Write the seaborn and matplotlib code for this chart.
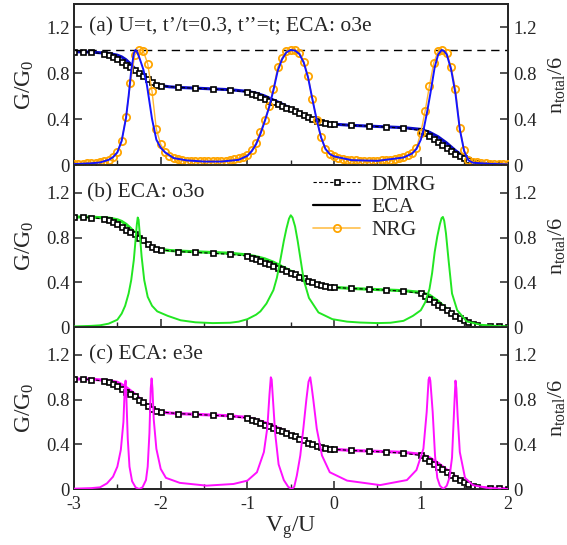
import matplotlib
matplotlib.use("Agg")
import matplotlib.pyplot as plt
import seaborn as sns
import pandas as pd
from matplotlib.ticker import MultipleLocator
from matplotlib.lines import Line2D

# ---------------- data ----------------
dmrg_v = [-3.0, -2.9, -2.8, -2.65, -2.6, -2.55, -2.5, -2.45, -2.4, -2.35, -2.3, -2.25, -2.2, -2.15,
          -2.1, -2.05, -2.0, -1.8, -1.6, -1.4, -1.2, -1.0, -0.95, -0.9, -0.85, -0.8, -0.75, -0.7,
          -0.65, -0.6, -0.55, -0.5, -0.45, -0.4, -0.35, -0.3, -0.25, -0.2, -0.15, -0.1, -0.05, 0.0,
          0.2, 0.4, 0.6, 0.8, 1.0, 1.05, 1.1, 1.15, 1.2, 1.25, 1.3, 1.35, 1.4, 1.45, 1.5, 1.55, 1.6,
          1.65, 1.8, 1.9, 2.0]
dmrg_n = [0.985, 0.985, 0.98, 0.965, 0.955, 0.94, 0.92, 0.895, 0.87, 0.85, 0.83, 0.80, 0.775, 0.745,
          0.72, 0.70, 0.69, 0.675, 0.667, 0.66, 0.65, 0.635, 0.62, 0.605, 0.59, 0.575, 0.56, 0.545,
          0.53, 0.515, 0.50, 0.485, 0.47, 0.45, 0.435, 0.415, 0.40, 0.385, 0.375, 0.365, 0.36, 0.355,
          0.345, 0.338, 0.33, 0.32, 0.30, 0.275, 0.25, 0.225, 0.20, 0.175, 0.15, 0.125, 0.10, 0.08,
          0.06, 0.045, 0.03, 0.02, 0.008, 0.005, 0.004]

nrg_v = [-3.0, -2.95, -2.9, -2.85, -2.8, -2.75, -2.7, -2.65, -2.6, -2.55, -2.5, -2.45, -2.4, -2.35,
         -2.3, -2.25, -2.2, -2.15, -2.1, -2.05, -2.0, -1.95, -1.9, -1.85, -1.8, -1.75, -1.7, -1.65,
         -1.6, -1.55, -1.5, -1.45, -1.4, -1.35, -1.3, -1.25, -1.2, -1.15, -1.1, -1.05, -1.0, -0.95,
         -0.9, -0.85, -0.8, -0.75, -0.7, -0.65, -0.6, -0.55, -0.5, -0.45, -0.4, -0.35, -0.3, -0.25,
         -0.2, -0.15, -0.1, -0.05, 0.0, 0.05, 0.1, 0.15, 0.2, 0.25, 0.3, 0.35, 0.4, 0.45, 0.5, 0.55,
         0.6, 0.65, 0.7, 0.75, 0.8, 0.85, 0.9, 0.95, 1.0, 1.05, 1.1, 1.15, 1.2, 1.25, 1.3, 1.35, 1.4,
         1.45, 1.5, 1.55, 1.6, 1.65, 1.7, 1.75, 1.8, 1.85, 1.9, 1.95, 2.0]
nrg_g = [0.010, 0.011, 0.012, 0.014, 0.017, 0.021, 0.026, 0.034, 0.046, 0.068, 0.110, 0.210, 0.420,
         0.710, 0.955, 1.000, 0.990, 0.880, 0.640, 0.310, 0.180, 0.110, 0.075, 0.058, 0.048, 0.042,
         0.038, 0.035, 0.033, 0.032, 0.031, 0.031, 0.032, 0.033, 0.035, 0.038, 0.042, 0.048, 0.057,
         0.068, 0.085, 0.130, 0.190, 0.290, 0.390, 0.510, 0.660, 0.850, 0.930, 0.990, 1.000, 1.000,
         0.975, 0.900, 0.770, 0.570, 0.390, 0.240, 0.140, 0.095, 0.075, 0.062, 0.053, 0.047, 0.043,
         0.040, 0.038, 0.037, 0.037, 0.037, 0.038, 0.040, 0.043, 0.047, 0.052, 0.060, 0.070, 0.085,
         0.105, 0.150, 0.280, 0.470, 0.690, 0.890, 0.990, 1.000, 0.975, 0.850, 0.660, 0.320, 0.130,
         0.045, 0.030, 0.022, 0.017, 0.014, 0.012, 0.010, 0.009, 0.008, 0.008]

eca_n_v = [-3.0, -2.8, -2.6, -2.5, -2.45, -2.4, -2.35, -2.3, -2.25, -2.2, -2.15, -2.1, -2.05, -2.0,
           -1.9, -1.8, -1.5, -1.2, -1.0, -0.9, -0.8, -0.7, -0.6, -0.5, -0.4, -0.3, -0.2, -0.1, 0.0,
           0.2, 0.5, 0.8, 1.0, 1.1, 1.2, 1.3, 1.4, 1.5, 1.6, 1.7, 1.8, 2.0]
eca_n_a = [0.985, 0.982, 0.97, 0.955, 0.94, 0.915, 0.88, 0.84, 0.80, 0.77, 0.745, 0.72, 0.70, 0.69,
           0.68, 0.675, 0.665, 0.655, 0.64, 0.625, 0.60, 0.565, 0.53, 0.49, 0.455, 0.42, 0.39, 0.37,
           0.355, 0.345, 0.335, 0.325, 0.31, 0.285, 0.245, 0.19, 0.125, 0.07, 0.035, 0.018, 0.01,
           0.004]
eca_n_b = [0.985, 0.983, 0.975, 0.96, 0.945, 0.92, 0.885, 0.845, 0.80, 0.77, 0.74, 0.72, 0.705,
           0.695, 0.685, 0.68, 0.67, 0.66, 0.645, 0.63, 0.61, 0.58, 0.54, 0.50, 0.46, 0.42, 0.39,
           0.37, 0.355, 0.345, 0.335, 0.325, 0.31, 0.285, 0.23, 0.16, 0.09, 0.045, 0.02, 0.01,
           0.005, 0.002]
eca_n_c = [0.985, 0.983, 0.97, 0.955, 0.935, 0.91, 0.88, 0.85, 0.815, 0.78, 0.75, 0.725, 0.705,
           0.69, 0.68, 0.675, 0.665, 0.655, 0.64, 0.62, 0.595, 0.565, 0.53, 0.49, 0.45, 0.415,
           0.385, 0.365, 0.355, 0.345, 0.337, 0.328, 0.31, 0.28, 0.23, 0.17, 0.11, 0.06, 0.03,
           0.015, 0.008, 0.003]

eca_g_a_v = [-3.0, -2.8, -2.7, -2.6, -2.55, -2.5, -2.45, -2.4, -2.37, -2.34, -2.31, -2.29, -2.27,
             -2.24, -2.2, -2.16, -2.13, -2.1, -2.05, -2.0, -1.95, -1.85, -1.7, -1.5, -1.3, -1.1,
             -1.0, -0.95, -0.9, -0.85, -0.8, -0.75, -0.7, -0.65, -0.6, -0.55, -0.5, -0.45, -0.4,
             -0.35, -0.3, -0.25, -0.2, -0.15, -0.1, -0.05, 0.0, 0.2, 0.5, 0.8, 0.9, 0.95, 1.0,
             1.03, 1.07, 1.11, 1.16, 1.2, 1.24, 1.27, 1.3, 1.35, 1.4, 1.45, 1.5, 1.55, 1.6, 1.8, 2.0]
eca_g_a = [0.008, 0.015, 0.022, 0.045, 0.068, 0.11, 0.21, 0.41, 0.60, 0.82, 0.97, 1.0, 0.98, 0.92,
           0.83, 0.70, 0.55, 0.40, 0.22, 0.15, 0.11, 0.06, 0.04, 0.03, 0.03, 0.045, 0.08, 0.12,
           0.18, 0.27, 0.38, 0.50, 0.65, 0.82, 0.92, 0.98, 1.0, 0.995, 0.965, 0.89, 0.76, 0.57,
           0.39, 0.24, 0.14, 0.095, 0.075, 0.042, 0.036, 0.065, 0.10, 0.14, 0.22, 0.30, 0.45, 0.62,
           0.85, 0.96, 1.0, 0.99, 0.96, 0.83, 0.62, 0.31, 0.12, 0.04, 0.02, 0.01, 0.005]

eca_g_b_v = [-3.0, -2.8, -2.7, -2.6, -2.5, -2.45, -2.41, -2.37, -2.34, -2.31, -2.29, -2.275, -2.265,
             -2.255, -2.24, -2.22, -2.19, -2.15, -2.1, -2.04, -1.92, -1.77, -1.6, -1.4, -1.2, -1.1,
             -1.0, -0.9, -0.85, -0.78, -0.7, -0.66, -0.62, -0.58, -0.55, -0.52, -0.5, -0.48, -0.45,
             -0.42, -0.39, -0.35, -0.29, -0.18, -0.02, 0.15, 0.3, 0.5, 0.65, 0.8, 0.91, 1.0, 1.05,
             1.1, 1.13, 1.16, 1.19, 1.22, 1.24, 1.255, 1.27, 1.29, 1.32, 1.36, 1.42, 1.53, 1.69,
             1.85, 2.0]
eca_g_b = [0.005, 0.01, 0.015, 0.03, 0.065, 0.12, 0.19, 0.30, 0.42, 0.60, 0.78, 0.92, 0.98, 0.96,
           0.82, 0.63, 0.42, 0.27, 0.19, 0.14, 0.10, 0.06, 0.042, 0.035, 0.038, 0.048, 0.07, 0.11,
           0.14, 0.21, 0.33, 0.44, 0.60, 0.77, 0.88, 0.97, 1.0, 0.98, 0.90, 0.77, 0.62, 0.42, 0.26,
           0.13, 0.07, 0.048, 0.04, 0.035, 0.038, 0.055, 0.10, 0.15, 0.22, 0.34, 0.48, 0.67, 0.81,
           0.92, 0.975, 0.985, 0.95, 0.84, 0.6, 0.3, 0.15, 0.05, 0.02, 0.01, 0.005]

eca_g_c_v = [-3.0, -2.8, -2.7, -2.62, -2.55, -2.5, -2.46, -2.43, -2.415, -2.405, -2.395, -2.38,
             -2.36, -2.33, -2.29, -2.25, -2.21, -2.17, -2.15, -2.13, -2.115, -2.105, -2.095, -2.08,
             -2.05, -2.0, -1.94, -1.78, -1.47, -1.16, -1.0, -0.89, -0.81, -0.77, -0.745, -0.73,
             -0.72, -0.705, -0.68, -0.64, -0.58, -0.53, -0.49, -0.46, -0.43, -0.39, -0.355, -0.32,
             -0.295, -0.275, -0.26, -0.24, -0.2, -0.14, -0.05, 0.15, 0.53, 0.84, 0.95, 1.03, 1.068,
             1.09, 1.1, 1.11, 1.137, 1.164, 1.19, 1.22, 1.26, 1.3, 1.33, 1.36, 1.385, 1.4, 1.41,
             1.425, 1.45, 1.51, 1.6, 1.76, 2.0]
eca_g_c = [0.003, 0.008, 0.015, 0.05, 0.11, 0.2, 0.35, 0.6, 0.9, 0.97, 0.8, 0.45, 0.2, 0.07, 0.015,
           0.0, 0.015, 0.08, 0.2, 0.5, 0.9, 0.99, 0.9, 0.62, 0.36, 0.18, 0.1, 0.055, 0.03, 0.045,
           0.075, 0.15, 0.33, 0.55, 0.85, 1.0, 0.98, 0.8, 0.5, 0.22, 0.08, 0.02, 0.0, 0.02, 0.12,
           0.3, 0.54, 0.8, 0.96, 1.0, 0.92, 0.8, 0.54, 0.3, 0.15, 0.075, 0.035, 0.08, 0.17, 0.36,
           0.69, 0.98, 1.0, 0.97, 0.69, 0.3, 0.1, 0.03, 0.0, 0.03, 0.1, 0.28, 0.72, 0.97, 0.9, 0.65,
           0.33, 0.1, 0.035, 0.01, 0.0]

panel_labels = ["(a) U=t, t\u2019/t=0.3, t\u2019\u2019=t; ECA: o3e", "(b) ECA: o3o", "(c) ECA: e3e"]
eca_colors = ["#1414FF", "#22E622", "#FF10FF"]
eca_n_colors = ["#0A0AC8", "#22E622", "#FF10FF"]
y_ticks = [0, 0.4, 0.8, 1.2]
y_tick_labels = ["0", "0.4", "0.8", "1.2"]
x_ticks = [-3, -2, -1, 0, 1, 2]
legend_labels = ["DMRG", "ECA", "NRG"]

# ---------------- style ----------------
sns.set_style("ticks")
plt.rcParams["font.family"] = ["Liberation Serif", "DejaVu Serif"]
plt.rcParams["mathtext.fontset"] = "custom"
plt.rcParams["mathtext.rm"] = "Liberation Serif"
plt.rcParams["mathtext.it"] = "Liberation Serif:italic"
plt.rcParams["mathtext.default"] = "regular"
plt.rcParams["axes.unicode_minus"] = False

fig = plt.figure(figsize=(5.67, 5.45), dpi=100)
left, width = 74 / 567, 433.5 / 567
tops = [4, 165, 327]
bottoms = [165, 327, 489]
ymaxes = [1.4, 1.45, 1.45]

g_series = [(eca_g_a_v, eca_g_a), (eca_g_b_v, eca_g_b), (eca_g_c_v, eca_g_c)]
n_series = [eca_n_a, eca_n_b, eca_n_c]

ORANGE = "#FFA500"
axes = []
for i in range(3):
    b = 1 - bottoms[i] / 545
    h = (bottoms[i] - tops[i]) / 545
    ax = fig.add_axes([left, b, width, h])
    axr = ax.twinx()
    axes.append(ax)
    ymax = ymaxes[i]

    if i == 0:
        ax.axhline(1.0, color="black", lw=1.0, ls=(0, (6, 4)), zorder=1)
        sns.lineplot(x=nrg_v, y=nrg_g, ax=ax, color="#FFB733", lw=1.0, marker="o",
                     markersize=5.2, markerfacecolor="none", markeredgecolor=ORANGE,
                     markeredgewidth=1.3, estimator=None, sort=False, zorder=3)
    gv, gg = g_series[i]
    sns.lineplot(x=gv, y=gg, ax=ax, color=eca_colors[i], lw=1.4, estimator=None,
                 sort=False, zorder=4)

    sns.lineplot(x=eca_n_v, y=n_series[i], ax=axr, color=eca_n_colors[i], lw=2.2,
                 estimator=None, sort=False, zorder=2)
    sns.lineplot(x=dmrg_v, y=dmrg_n, ax=axr, color="black", lw=0.8, ls=(0, (3, 2)),
                 marker="s", markersize=3.6, markerfacecolor="white",
                 markeredgecolor="black", markeredgewidth=1.2, estimator=None, sort=False,
                 zorder=3)

    for a in (ax, axr):
        a.set_xlim(-3, 2)
        a.set_ylim(0, ymax)
        a.set_yticks(y_ticks)
        a.set_yticklabels(y_tick_labels)
        for s in a.spines.values():
            s.set_linewidth(1.3)
    ax.set_zorder(axr.get_zorder() + 1)
    ax.patch.set_visible(False)

    ax.set_xticks(x_ticks)
    ax.xaxis.set_minor_locator(MultipleLocator(0.5))
    ax.tick_params(axis="x", which="major", direction="in", length=6, width=1.1,
                   top=False, labelsize=13, pad=5)
    ax.tick_params(axis="x", which="minor", direction="in", length=3.5, width=1.0, top=False)
    ax.tick_params(axis="y", direction="in", length=6, width=1.1, right=False,
                   labelsize=13.5, pad=3)
    axr.tick_params(axis="y", direction="in", length=6, width=1.1, left=False,
                    labelsize=13.5, pad=4)
    axr.tick_params(axis="x", which="both", bottom=False, top=False)
    if i < 2:
        ax.set_xticklabels([])
    else:
        ax.set_xticklabels([str(t) for t in x_ticks])
        ax.set_xlabel("V$_g$/U", fontsize=17, labelpad=1)

    ax.set_ylabel("G/G$_0$", fontsize=17)
    ax.yaxis.set_label_coords(-0.088, 0.5)
    axr.set_ylabel("n$_{total}$/6", fontsize=16, rotation=90)
    axr.yaxis.set_label_coords(1.088, 0.5)

    ax.text(0.035 if i != 1 else 0.029, 1.2, panel_labels[i], transform=ax.get_yaxis_transform(),
            fontsize=15.5, va="center", ha="left")

handles = [
    Line2D([], [], color="black", lw=0.8, ls=(0, (3, 2)), marker="s", markersize=3.6,
           markerfacecolor="white", markeredgecolor="black", markeredgewidth=1.2),
    Line2D([], [], color="black", lw=1.6),
    Line2D([], [], color="#FFC04D", lw=1.2, marker="o", markersize=5.2,
           markerfacecolor="none", markeredgecolor=ORANGE, markeredgewidth=1.3),
]
axes[1].legend(handles, legend_labels, loc="upper left", bbox_to_anchor=(0.551, 0.94),
               frameon=False, fontsize=15.5, handlelength=2.2, handletextpad=0.5,
               labelspacing=0.12, borderpad=0, borderaxespad=0)

fig.savefig("out.png", dpi=100)
